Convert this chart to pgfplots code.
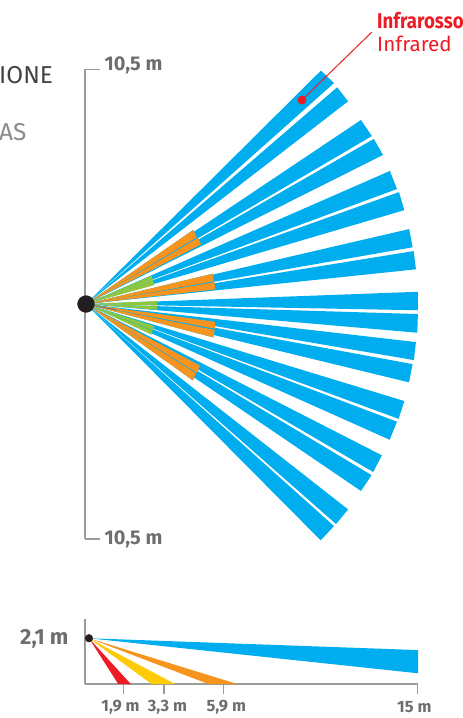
\documentclass[border=0pt]{standalone}
\usepackage{fontspec}
\setmainfont{Fira Sans}
\newfontfamily\narrow[FakeStretch=0.87]{Fira Sans}
\usepackage{pgfplots}
\pgfplotsset{compat=1.18}
\definecolor{zoneblue}{RGB}{0,174,239}
\definecolor{zoneorange}{RGB}{247,148,30}
\definecolor{zonegreen}{RGB}{141,198,63}
\definecolor{zoneyellow}{RGB}{255,203,5}
\definecolor{zonered}{RGB}{237,28,36}
\definecolor{axisgrey}{RGB}{155,155,155}
\definecolor{labelgrey}{RGB}{109,110,113}
\definecolor{dotblack}{RGB}{35,31,32}
\pgfplotsset{
  zone/.style={draw=none,fill=#1},
  chartlines/.style={
    scale only axis, clip=false,
    major tick style={draw=axisgrey,line width=1.4bp},
  },
}
\begin{document}
\begin{tikzpicture}
\useasboundingbox (0,0) rectangle (463bp,718bp);

% plan view, metres
\begin{axis}[
  chartlines, at={(85.1bp,179bp)}, anchor=south west,
  width=334.6bp, height=469.5bp,
  xmin=-0.04, xmax=15, ymin=-10.56, ymax=10.54,
  axis x line=none, axis y line=left,
  axis line style={-,draw=axisgrey,line width=1.6bp},
  xtick=\empty,
  ytick={-10.56,10.54},
  yticklabels={{\raisebox{2bp}{10,5 m}},{\raisebox{12bp}{10,5 m}}},
  tick align=inside, major tick length=15bp,
  yticklabel style={anchor=west,xshift=16bp,text=labelgrey,
    font=\bfseries\fontsize{20}{20}\selectfont},
]
% long range, pairs left to right from the top
\addplot[zone=zoneblue] coordinates {(0,0) (10.56,10.49) (11.15,9.93)};
\addplot[zone=zoneblue] coordinates {(0,0) (11.29,9.74) (11.78,9.11)};
\addplot[zone=zoneblue] coordinates {(0,0) (12.36,8.27) (12.85,7.55)};
\addplot[zone=zoneblue] coordinates {(0,0) (12.94,7.42) (13.35,6.70)};
\addplot[zone=zoneblue] coordinates {(0,0) (13.66,5.98) (13.98,5.17)};
\addplot[zone=zoneblue] coordinates {(0,0) (14.07,5.03) (14.31,4.22)};
\addplot[zone=zoneblue] coordinates {(0,0) (14.53,3.37) (14.68,2.55)};
\addplot[zone=zoneblue] coordinates {(0,0) (14.73,2.38) (14.83,1.56)};
\addplot[zone=zoneblue] coordinates {(0,0) (14.92,0.55) (14.92,-0.28)};
\addplot[zone=zoneblue] coordinates {(0,0) (14.92,-0.45) (14.89,-1.29)};
\addplot[zone=zoneblue] coordinates {(0,0) (14.83,-1.71) (14.74,-2.52)};
\addplot[zone=zoneblue] coordinates {(0,0) (14.68,-2.70) (14.52,-3.52)};
\addplot[zone=zoneblue] coordinates {(0,0) (14.31,-4.36) (14.05,-5.16)};
\addplot[zone=zoneblue] coordinates {(0,0) (13.98,-5.29) (13.65,-6.10)};
\addplot[zone=zoneblue] coordinates {(0,0) (13.30,-6.80) (12.91,-7.55)};
\addplot[zone=zoneblue] coordinates {(0,0) (12.84,-7.69) (12.36,-8.40)};
\addplot[zone=zoneblue] coordinates {(0,0) (11.78,-9.23) (11.24,-9.89)};
\addplot[zone=zoneblue] coordinates {(0,0) (11.15,-9.98) (10.55,-10.62)};
% blue shows through between the short pairs
\addplot[zone=zoneblue] coordinates {(0,0) (4.82,3.33) (5.17,2.68)};
\addplot[zone=zoneblue] coordinates {(0,0) (5.69,1.36) (5.81,0.66)};
\addplot[zone=zoneblue] coordinates {(0,0) (5.81,-0.80) (5.72,-1.50)};
\addplot[zone=zoneblue] coordinates {(0,0) (5.12,-2.77) (4.80,-3.43)};
% mid range
\addplot[zone=zoneorange] coordinates {(0,0) (4.82,3.33) (4.98,3.00)};
\addplot[zone=zoneorange] coordinates {(0,0) (5.03,2.97) (5.17,2.68)};
\addplot[zone=zoneorange] coordinates {(0,0) (5.69,1.36) (5.75,1.02)};
\addplot[zone=zoneorange] coordinates {(0,0) (5.77,0.98) (5.81,0.66)};
\addplot[zone=zoneorange] coordinates {(0,0) (5.81,-0.80) (5.80,-1.11)};
\addplot[zone=zoneorange] coordinates {(0,0) (5.78,-1.17) (5.72,-1.50)};
\addplot[zone=zoneorange] coordinates {(0,0) (5.12,-2.77) (4.99,-3.09)};
\addplot[zone=zoneorange] coordinates {(0,0) (4.94,-3.11) (4.80,-3.43)};
% short range
\addplot[zone=zonegreen] coordinates {(0,0) (2.95,1.27) (3.01,1.08)};
\addplot[zone=zonegreen] coordinates {(0,0) (3.02,1.07) (3.07,0.85)};
\addplot[zone=zonegreen] coordinates {(0,0) (3.20,0.13) (3.20,-0.06)};
\addplot[zone=zonegreen] coordinates {(0,0) (3.20,-0.09) (3.20,-0.26)};
\addplot[zone=zonegreen] coordinates {(0,0) (3.07,-0.99) (3.02,-1.18)};
\addplot[zone=zonegreen] coordinates {(0,0) (3.00,-1.20) (2.95,-1.38)};
\addplot[draw=labelgrey,line width=1bp,opacity=0.8] coordinates {(0,0) (1.39,-0.27)};
% sensor and infrared callout
\addplot[only marks,mark=*,mark size=8.4bp,mark options={fill=dotblack,draw=dotblack}] coordinates {(0,0)};
\addplot[draw=zonered,line width=1bp] coordinates {(9.71,9.17) (12.85,12.22)};
\addplot[only marks,mark=*,mark size=4.2bp,mark options={fill=zonered,draw=zonered}] coordinates {(9.71,9.17)};
\end{axis}

% side view, metres
\begin{axis}[
  chartlines, at={(85bp,34bp)}, anchor=south west,
  width=333bp, height=65bp,
  xmin=0, xmax=15.05, ymin=0, ymax=2.97,
  axis lines=left,
  axis line style={-,draw=axisgrey,line width=1.6bp},
  ytick=\empty,
  xtick={1.74,3.57,6.25,15.02},
  xticklabels={{1,9 m\kern6bp},{\kern7bp 3,3 m},{\kern6bp 5,9 m},{15 m\kern6bp}},
  tick align=outside, major tick length=10bp,
  xticklabel style={text=labelgrey,anchor=center,yshift=-13bp,
    font=\bfseries\fontsize{16.5}{16.5}\selectfont},
]
\addplot[zone=zoneblue] coordinates {(0.18,2.09) (15.05,1.55) (15.05,0.49)};
\addplot[zone=zoneorange] coordinates {(0.18,2.09) (5.57,0) (6.88,0)};
\addplot[zone=zoneyellow] coordinates {(0.18,2.09) (3.01,0) (4.07,0)};
\addplot[zone=zonered] coordinates {(0.18,2.09) (1.50,0) (2.07,0)};
\addplot[only marks,mark=*,mark size=3.8bp,mark options={fill=dotblack,draw=dotblack}] coordinates {(0.18,2.09)};
\end{axis}

% text around the plots
\node[anchor=west,inner sep=0,text=labelgrey,font=\bfseries\fontsize{22}{22}\selectfont]
  at (20bp,79bp) {2,1 m};
\node[anchor=west,inner sep=0,text=dotblack!85,font=\fontsize{24.5}{24.5}\selectfont]
  at (-1bp,643bp) {IONE};
\node[anchor=west,inner sep=0,text=labelgrey!80,font=\fontsize{24.5}{24.5}\selectfont]
  at (-1bp,586bp) {AS};
\node[anchor=base west,inner sep=0,text=zonered,font=\narrow\bfseries\fontsize{21.5}{21.5}\selectfont]
  at (377bp,689bp) {Infrarosso};
\node[anchor=base west,inner sep=0,text=zonered,font=\fontsize{20.7}{20.7}\selectfont]
  at (377bp,666bp) {Infrared};
\end{tikzpicture}
\end{document}
